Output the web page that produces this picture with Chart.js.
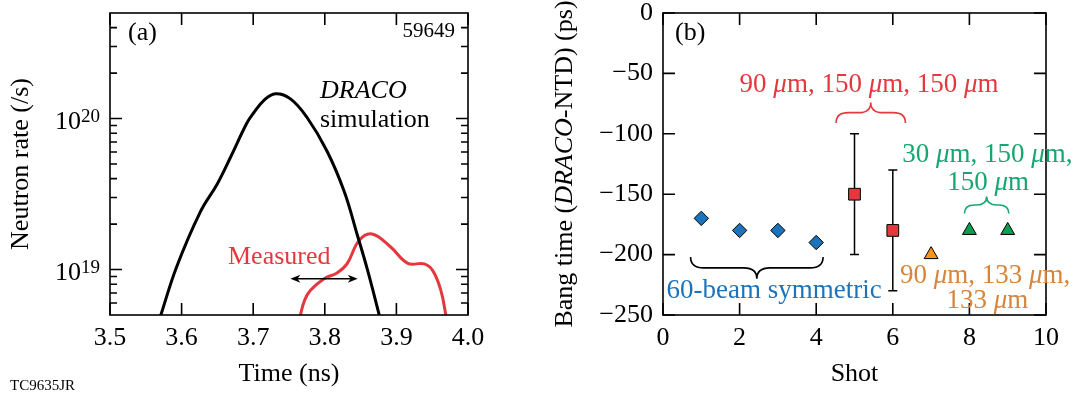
<!DOCTYPE html>
<html>
<head>
<meta charset="utf-8">
<script src="https://cdn.jsdelivr.net/npm/chart.js@4.4.1/dist/chart.umd.min.js"></script>
<style>
  html, body { margin: 0; padding: 0; background: #fff; }
  #wrap { position: relative; width: 1076px; height: 394px; }
  #chartA { position: absolute; left: 0; top: 0; }
  #chartB { position: absolute; left: 540px; top: 0; }
</style>
</head>
<body>
<div id="wrap">
  <canvas id="chartA" width="540" height="394"></canvas>
  <canvas id="chartB" width="536" height="394"></canvas>
</div>
<script>
// ---- panel (a): neutron rate vs time ----
const simTime = [3.565, 3.571, 3.593, 3.626, 3.650, 3.668, 3.691, 3.700, 3.715, 3.731, 3.752, 3.775, 3.803, 3.827, 3.845, 3.860, 3.876, 3.880];
const simRate = [4.1e18, 5e18, 1.04e19, 2.4e19, 3.7e19, 5.5e19, 9.3e19, 1.08e20, 1.32e20, 1.46e20, 1.35e20, 1.02e20, 6.1e19, 3.3e19, 1.72e19, 9.8e18, 5e18, 4.2e18];
const measTime = [3.763, 3.766, 3.772, 3.780, 3.799, 3.817, 3.831, 3.848, 3.866, 3.892, 3.916, 3.939, 3.951, 3.962, 3.969, 3.971];
const measRate = [4.2e18, 5e18, 6.3e18, 7.3e18, 8.7e18, 9.5e18, 1.09e19, 1.56e19, 1.72e19, 1.41e19, 1.10e19, 1.09e19, 9.8e18, 7.3e18, 5e18, 4.2e18];
const timeTicks = [3.5, 3.6, 3.7, 3.8, 3.9, 4.0];
const rateMajor = [1e19, 1e20];
const rateExp = ['19', '20'];
const rateMinor = [6e18, 7e18, 8e18, 9e18, 2e19, 3e19, 4e19, 5e19, 6e19, 7e19, 8e19, 9e19, 2e20, 3e20, 4e20];
const arrowTime = [3.752, 3.846];
const arrowRate = 8.7e18;

// ---- panel (b): bang time offset per shot ----
const shotsSym = [1, 2, 3, 4];
const bangSym = [-170, -180, -180, -190];
const shotsRed = [5, 6];
const bangRed = [-150, -180];
const errRed = [50, 50];
const shotsOrange = [7];
const bangOrange = [-200];
const shotsGreen = [8, 9];
const bangGreen = [-180, -180];

// braces: [x1, x2, y at ends, y at tip] in data units
const braceSym = [0.72, 4.18, -202, -220];
const braceRed = [4.52, 6.33, -91, -74];
const braceGreen = [7.87, 9.03, -166, -152];

const SERIF = "'Liberation Serif', 'Times New Roman', serif";
const RED = '#e5383e';
const BLUE = '#1b74bb';
const ORANGE = '#f7941d';
const ORANGE_TXT = '#d8843a';
const GREEN = '#0c9c52';
const GREEN_TXT = '#17a671';

Chart.defaults.font.family = SERIF;
Chart.defaults.font.size = 26;
Chart.defaults.color = '#000';

const pts = (xs, ys) => xs.map((x, i) => ({ x: x, y: ys[i] }));

// draw text made of pieces, some of them italic
function drawParts(ctx, parts, x, y, size, color, align) {
  ctx.save();
  ctx.fillStyle = color;
  ctx.textBaseline = 'alphabetic';
  ctx.textAlign = 'left';
  const fontOf = it => (it ? 'italic ' : '') + size + 'px ' + SERIF;
  let w = 0;
  parts.forEach(([s, it]) => { ctx.font = fontOf(it); w += ctx.measureText(s).width; });
  let cx = align === 'center' ? x - w / 2 : align === 'right' ? x - w : x;
  parts.forEach(([s, it]) => {
    ctx.font = fontOf(it);
    ctx.fillText(s, cx, y);
    cx += ctx.measureText(s).width;
  });
  ctx.restore();
}

// every mu is set in italic, like in the figure
function drawMu(ctx, text, x, y, color) {
  const parts = text.split(/(μ)/).filter(s => s).map(s => [s, s === 'μ']);
  drawParts(ctx, parts, x, y, 27, color, 'center');
}

function drawBrace(ctx, x1, x2, yEnd, yTip) {
  const xm = (x1 + x2) / 2, ym = (yEnd + yTip) / 2;
  const r = Math.abs(yEnd - yTip) * 0.6;
  ctx.beginPath();
  ctx.moveTo(x1, yEnd);
  ctx.quadraticCurveTo(x1, ym, x1 + r, ym);
  ctx.lineTo(xm - r, ym);
  ctx.quadraticCurveTo(xm, ym, xm, yTip);
  ctx.quadraticCurveTo(xm, ym, xm + r, ym);
  ctx.lineTo(x2 - r, ym);
  ctx.quadraticCurveTo(x2, ym, x2, yEnd);
  ctx.stroke();
}

function braceOnScales(chart, b, color) {
  const { ctx, scales: { x, y } } = chart;
  ctx.save();
  ctx.strokeStyle = color;
  ctx.lineWidth = 1.6;
  drawBrace(ctx, x.getPixelForValue(b[0]), x.getPixelForValue(b[1]), y.getPixelForValue(b[2]), y.getPixelForValue(b[3]));
  ctx.restore();
}

// box round the plot with ticks pointing inward on all four sides
function drawFrame(chart, xVals, yMajor, yMinor) {
  const { ctx, chartArea: a, scales: { x, y } } = chart;
  ctx.save();
  ctx.strokeStyle = '#000';
  ctx.lineWidth = 1.6;
  ctx.strokeRect(a.left, a.top, a.right - a.left, a.bottom - a.top);
  ctx.beginPath();
  xVals.forEach(v => {
    const px = x.getPixelForValue(v);
    ctx.moveTo(px, a.bottom); ctx.lineTo(px, a.bottom - 12);
    ctx.moveTo(px, a.top); ctx.lineTo(px, a.top + 12);
  });
  yMajor.forEach(v => {
    const py = y.getPixelForValue(v);
    ctx.moveTo(a.left, py); ctx.lineTo(a.left + 12, py);
    ctx.moveTo(a.right, py); ctx.lineTo(a.right - 12, py);
  });
  yMinor.forEach(v => {
    const py = y.getPixelForValue(v);
    ctx.moveTo(a.left, py); ctx.lineTo(a.left + 7, py);
    ctx.moveTo(a.right, py); ctx.lineTo(a.right - 7, py);
  });
  ctx.stroke();
  ctx.restore();
}

const panelA = {
  id: 'panelA',
  afterDatasetsDraw(chart) {
    const { ctx, chartArea: a, scales: { x, y } } = chart;
    drawFrame(chart, timeTicks, rateMajor, rateMinor);

    // log tick labels: 10 with a raised exponent
    rateMajor.forEach((v, i) => {
      const py = y.getPixelForValue(v);
      ctx.save();
      ctx.fillStyle = '#000';
      ctx.textBaseline = 'alphabetic';
      ctx.textAlign = 'right';
      ctx.font = '19px ' + SERIF;
      const ew = ctx.measureText(rateExp[i]).width;
      ctx.fillText(rateExp[i], a.left - 10, py + 3.5);
      ctx.font = '26px ' + SERIF;
      ctx.fillText('10', a.left - 10 - ew, py + 10);
      ctx.restore();
    });

    // double arrow between the two bang times
    const x1 = x.getPixelForValue(arrowTime[0]);
    const x2 = x.getPixelForValue(arrowTime[1]);
    const ya = y.getPixelForValue(arrowRate);
    ctx.save();
    ctx.strokeStyle = '#000';
    ctx.fillStyle = '#000';
    ctx.lineWidth = 1.6;
    ctx.beginPath();
    ctx.moveTo(x1 + 4, ya); ctx.lineTo(x2 - 4, ya);
    ctx.stroke();
    [[x1, 1], [x2, -1]].forEach(([px, d]) => {
      ctx.beginPath();
      ctx.moveTo(px, ya);
      ctx.lineTo(px + d * 10, ya - 4);
      ctx.lineTo(px + d * 7, ya);
      ctx.lineTo(px + d * 10, ya + 4);
      ctx.closePath();
      ctx.fill();
    });
    ctx.restore();

    drawParts(ctx, [['(a)', false]], 128, 40, 26, '#000', 'left');
    drawParts(ctx, [['59649', false]], 455, 37, 21, '#000', 'right');
    drawParts(ctx, [['DRACO', true]], 320, 98, 26, '#000', 'left');
    drawParts(ctx, [['simulation', false]], 320, 127, 26, '#000', 'left');
    drawParts(ctx, [['Measured', false]], 228, 264, 26, RED, 'left');
    drawParts(ctx, [['TC9635JR', false]], 10, 390, 15, '#000', 'left');
  }
};

new Chart(document.getElementById('chartA'), {
  type: 'line',
  data: {
    datasets: [
      {
        label: 'DRACO simulation',
        data: pts(simTime, simRate),
        borderColor: '#000',
        borderWidth: 3,
        pointRadius: 0,
        tension: 0.4
      },
      {
        label: 'Measured',
        data: pts(measTime, measRate),
        borderColor: RED,
        borderWidth: 3,
        pointRadius: 0,
        tension: 0.4
      }
    ]
  },
  options: {
    responsive: false,
    animation: false,
    layout: { padding: { top: 13, right: 72, left: 0, bottom: 0 } },
    plugins: { legend: { display: false }, tooltip: { enabled: false } },
    scales: {
      x: {
        type: 'linear',
        min: 3.5,
        max: 4.0,
        ticks: { stepSize: 0.1, padding: 8, maxRotation: 0, autoSkip: false, callback: v => v.toFixed(1) },
        grid: { display: false, drawTicks: false },
        border: { display: false },
        title: { display: true, text: 'Time (ns)', padding: { top: 0, bottom: 4 } },
        afterFit: s => { s.height = 79; s.paddingLeft = 0; s.paddingRight = 0; }
      },
      y: {
        type: 'logarithmic',
        min: 5e18,
        max: 5e20,
        ticks: { display: false },
        grid: { display: false, drawTicks: false },
        border: { display: false },
        title: { display: true, text: 'Neutron rate (/s)', padding: { top: 6, bottom: 0 } },
        afterFit: s => { s.width = 110; s.paddingTop = 0; s.paddingBottom = 0; }
      }
    }
  },
  plugins: [panelA]
});

const panelB = {
  id: 'panelB',
  beforeDatasetsDraw(chart) {
    // error bars under the red squares
    const { ctx, scales: { x, y } } = chart;
    ctx.save();
    ctx.strokeStyle = '#000';
    ctx.lineWidth = 1.5;
    ctx.beginPath();
    shotsRed.forEach((s, i) => {
      const px = x.getPixelForValue(s);
      const top = y.getPixelForValue(bangRed[i] + errRed[i]);
      const bot = y.getPixelForValue(bangRed[i] - errRed[i]);
      ctx.moveTo(px, top); ctx.lineTo(px, bot);
      ctx.moveTo(px - 4.5, top); ctx.lineTo(px + 4.5, top);
      ctx.moveTo(px - 4.5, bot); ctx.lineTo(px + 4.5, bot);
    });
    ctx.stroke();
    ctx.restore();
  },
  afterDatasetsDraw(chart) {
    const { ctx, chartArea: a, scales: { x, y } } = chart;
    drawFrame(chart, x.ticks.map(t => t.value), y.ticks.map(t => t.value), []);

    braceOnScales(chart, braceSym, '#000');
    braceOnScales(chart, braceRed, RED);
    braceOnScales(chart, braceGreen, GREEN_TXT);

    const X = v => x.getPixelForValue(v);
    const Y = v => y.getPixelForValue(v);
    drawParts(ctx, [['(b)', false]], a.left + 12, 40, 26, '#000', 'left');
    drawMu(ctx, '90 μm, 150 μm, 150 μm', X(5.38), Y(-65.3), RED);
    drawMu(ctx, '60-beam symmetric', X(2.9), Y(-236), BLUE);
    drawMu(ctx, '30 μm, 150 μm,', X(8.47), Y(-123.2), GREEN_TXT);
    drawMu(ctx, '150 μm', X(8.49), Y(-146.7), GREEN_TXT);
    drawMu(ctx, '90 μm, 133 μm,', X(8.41), Y(-223.6), ORANGE_TXT);
    drawMu(ctx, '133 μm', X(8.47), Y(-244.3), ORANGE_TXT);

    // y title with italic DRACO
    ctx.save();
    ctx.translate(32, (a.top + a.bottom) / 2);
    ctx.rotate(-Math.PI / 2);
    drawParts(ctx, [['Bang time (', false], ['DRACO', true], ['-NTD) (ps)', false]], 0, 0, 26, '#000', 'center');
    ctx.restore();
  }
};

new Chart(document.getElementById('chartB'), {
  type: 'scatter',
  data: {
    datasets: [
      { label: '60-beam symmetric', data: pts(shotsSym, bangSym), pointStyle: 'rectRot', pointRadius: 7.2, backgroundColor: BLUE, borderColor: '#000', borderWidth: 1 },
      { label: '90/150/150', data: pts(shotsRed, bangRed), pointStyle: 'rect', pointRadius: 8.3, backgroundColor: RED, borderColor: '#000', borderWidth: 1 },
      { label: '90/133/133', data: pts(shotsOrange, bangOrange), pointStyle: 'triangle', pointRadius: 8, backgroundColor: ORANGE, borderColor: '#000', borderWidth: 1 },
      { label: '30/150/150', data: pts(shotsGreen, bangGreen), pointStyle: 'triangle', pointRadius: 8, backgroundColor: GREEN, borderColor: '#000', borderWidth: 1 }
    ]
  },
  options: {
    responsive: false,
    animation: false,
    layout: { padding: { top: 13, right: 30, left: 0, bottom: 0 } },
    plugins: { legend: { display: false }, tooltip: { enabled: false } },
    scales: {
      x: {
        type: 'linear',
        min: 0,
        max: 10,
        ticks: { stepSize: 2, padding: 8, maxRotation: 0, autoSkip: false },
        grid: { display: false, drawTicks: false },
        border: { display: false },
        title: { display: true, text: 'Shot', padding: { top: 0, bottom: 4 } },
        afterFit: s => { s.height = 79; s.paddingLeft = 0; s.paddingRight = 0; }
      },
      y: {
        type: 'linear',
        min: -250,
        max: 0,
        ticks: { stepSize: 50, padding: 10, callback: v => (v < 0 ? '\u2212' + Math.abs(v) : String(v)) },
        grid: { display: false, drawTicks: false },
        border: { display: false },
        afterFit: s => { s.width = 123; s.paddingTop = 0; s.paddingBottom = 0; }
      }
    }
  },
  plugins: [panelB]
});
</script>
</body>
</html>
